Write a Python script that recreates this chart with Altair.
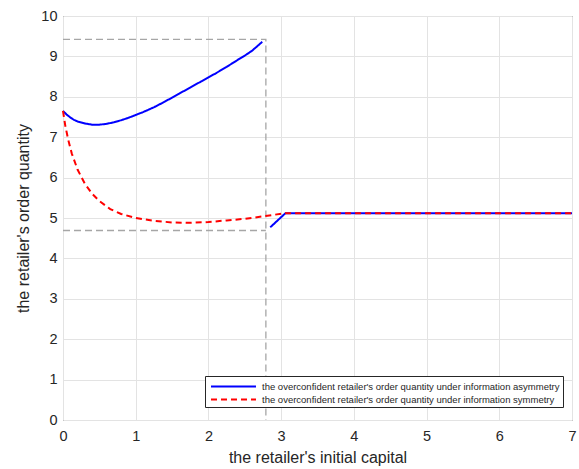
import altair as alt
import pandas as pd

# Blue: overconfident retailer's order quantity under information asymmetry
asym_x1 = [0, 0.05, 0.1, 0.15, 0.2, 0.3, 0.4, 0.5, 0.6, 0.7, 0.8, 0.9, 1.0, 1.1, 1.25, 1.4, 1.5, 1.6,
           1.75, 1.9, 2.0, 2.1, 2.25, 2.4, 2.5, 2.6, 2.74]
asym_y1 = [7.65, 7.56, 7.49, 7.43, 7.39, 7.34, 7.31, 7.31, 7.33, 7.37, 7.42, 7.48, 7.55, 7.62, 7.74,
           7.88, 7.98, 8.08, 8.23, 8.38, 8.48, 8.58, 8.74, 8.91, 9.02, 9.14, 9.36]
asym_x2 = [2.85, 3.06, 7.0]
asym_y2 = [4.77, 5.12, 5.12]

# Red dashed: under information symmetry
sym_x = [0, 0.03, 0.07, 0.12, 0.2, 0.3, 0.4, 0.5, 0.65, 0.8, 1.0, 1.25, 1.5, 1.75, 2.0, 2.25, 2.5, 2.75, 3.06, 7.0]
sym_y = [7.65, 7.3, 6.95, 6.6, 6.2, 5.85, 5.6, 5.42, 5.22, 5.1, 5.0, 4.93, 4.89, 4.88, 4.9, 4.94, 4.98, 5.04, 5.12, 5.12]

# Gray dashed reference lines
ref_x = [0, 2.79, 2.79]
ref_y = [9.42, 9.42, 0]
ref2_x = [0, 2.79]
ref2_y = [4.69, 4.69]

LAB_A = "the overconfident retailer's order quantity under information asymmetry"
LAB_S = "the overconfident retailer's order quantity under information symmetry"

rows = []
for i, (x, y) in enumerate(zip(asym_x1, asym_y1)):
    rows.append(dict(x=x, y=y, series=LAB_A, seg="a1", o=i))
for i, (x, y) in enumerate(zip(asym_x2, asym_y2)):
    rows.append(dict(x=x, y=y, series=LAB_A, seg="a2", o=i))
for i, (x, y) in enumerate(zip(sym_x, sym_y)):
    rows.append(dict(x=x, y=y, series=LAB_S, seg="s1", o=i))
df = pd.DataFrame(rows)

ref_rows = []
for i, (x, y) in enumerate(zip(ref_x, ref_y)):
    ref_rows.append(dict(x=x, y=y, seg="r1", o=i))
for i, (x, y) in enumerate(zip(ref2_x, ref2_y)):
    ref_rows.append(dict(x=x, y=y, seg="r2", o=i))
rdf = pd.DataFrame(ref_rows)

FONT = "Liberation Sans"

xscale = alt.Scale(domain=[0, 7], nice=False, zero=False)
yscale = alt.Scale(domain=[0, 10], nice=False, zero=False)

xaxis = alt.Axis(values=[0, 1, 2, 3, 4, 5, 6, 7], format="d", title="the retailer's initial capital",
                 labelFontSize=14.5, titleFontSize=16, labelFont=FONT, titleFont=FONT,
                 titleFontWeight="normal",
                 labelColor="#262626", titleColor="#262626", ticks=False, domain=False,
                 labelPadding=9, titlePadding=7, gridColor="#e3e3e3", labelFlush=False)
yaxis = alt.Axis(values=list(range(0, 11)), format="d", title="the retailer's order quantity",
                 labelFontSize=14.5, titleFontSize=16, labelFont=FONT, titleFont=FONT,
                 titleFontWeight="normal",
                 labelColor="#262626", titleColor="#262626", ticks=False, domain=False,
                 labelPadding=6, titlePadding=9, gridColor="#e3e3e3")

ref = alt.Chart(rdf).mark_line(color="#a6a6a6", strokeWidth=1.3, strokeDash=[7, 4]).encode(
    x=alt.X("x:Q", scale=xscale, axis=xaxis),
    y=alt.Y("y:Q", scale=yscale, axis=yaxis),
    detail="seg:N",
    order="o:Q",
)

color_scale = alt.Scale(domain=[LAB_A, LAB_S], range=["#0000ff", "#ff0000"])
dash_scale = alt.Scale(domain=[LAB_A, LAB_S], range=[[1, 0], [6, 4]])
legend = alt.Legend(orient="none", legendX=142, legendY=360, title=None,
                    symbolType="M-3.46,0L3.46,0", symbolSize=169, symbolStrokeWidth=2,
                    symbolOffset=18, labelOffset=21,
                    labelFontSize=9.5, labelFont=FONT, labelColor="#262626", labelLimit=400,
                    strokeColor="#262626", fillColor="white", padding=3, rowPadding=1)

lines = alt.Chart(df).mark_line(strokeWidth=2).encode(
    x=alt.X("x:Q", scale=xscale),
    y=alt.Y("y:Q", scale=yscale),
    color=alt.Color("series:N", scale=color_scale, legend=legend, title=None),
    strokeDash=alt.StrokeDash("series:N", scale=dash_scale, legend=legend, title=None),
    detail="seg:N",
    order="o:Q",
)

chart = alt.layer(ref, lines).properties(
    width=509, height=404,
    autosize=alt.AutoSizeParams(type="none"),
    padding={"left": 63, "top": 16, "right": 7, "bottom": 49},
    background="white",
).configure_view(stroke="#404040", strokeWidth=1)

chart.save("out.html", embed_options={"renderer": "svg", "actions": False})
